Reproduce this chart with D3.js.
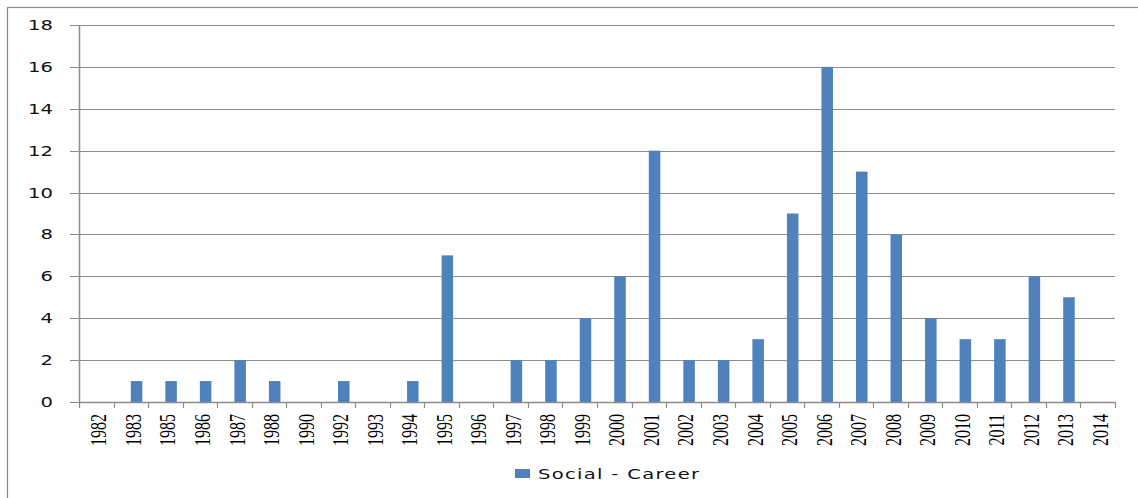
<!DOCTYPE html>
<html>
<head>
<meta charset="utf-8">
<script src="https://cdn.jsdelivr.net/npm/d3@7"></script>
<style>
html,body{margin:0;padding:0;background:#fff;}
svg{display:block;}
</style>
</head>
<body>
<svg id="chart" width="1138" height="498"></svg>
<script>
const categories = ["1982","1983","1985","1986","1987","1988","1990","1992","1993","1994","1995","1996","1997","1998","1999","2000","2001","2002","2003","2004","2005","2006","2007","2008","2009","2010","2011","2012","2013","2014"];
const values = [0,1,1,1,2,1,0,1,0,1,7,0,2,2,4,6,12,2,2,3,9,16,11,8,4,3,3,6,5,0];
const yTicks = [0,2,4,6,8,10,12,14,16,18];
const seriesName = "Social - Career";

(function(){
const svg = d3.select("#chart");
const pLeft = 79, pRight = 1115, pTop = 25, pBottom = 402;
const gridColor = "#8c8c8c";
const barColor = "#4f81bd";

// outer border
svg.append("rect").attr("x",7.5).attr("y",7.5).attr("width",1300).attr("height",700)
  .attr("fill","none").attr("stroke","#8a8a8a").attr("stroke-width",1.2);

const x = d3.scaleBand().domain(categories).range([pLeft,pRight]).padding(0);
const y = d3.scaleLinear().domain([0,18]).range([pBottom,pTop]);

// gridlines + y ticks
svg.append("g").selectAll("line").data(yTicks).join("line")
  .attr("x1",70).attr("x2",pRight)
  .attr("y1",d=>Math.round(y(d))+0.5).attr("y2",d=>Math.round(y(d))+0.5)
  .attr("stroke",gridColor).attr("stroke-width",1);

// y labels
svg.append("g").selectAll("text").data(yTicks).join("text")
  .attr("transform",d=>`translate(53,${y(d)+5}) scale(1.45,1)`)
  .attr("text-anchor","end")
  .attr("font-family","DejaVu Sans")
  .attr("font-size","13.5px")
  .attr("fill","#111")
  .text(d=>d);

// y axis line
svg.append("line").attr("x1",pLeft+0.5).attr("x2",pLeft+0.5).attr("y1",pTop).attr("y2",pBottom+1)
  .attr("stroke",gridColor).attr("stroke-width",1.5);

// x axis ticks at category boundaries
const bounds = categories.map(c=>x(c)).concat([pRight]);
svg.append("g").selectAll("line").data(bounds).join("line")
  .attr("x1",d=>Math.round(d)+0.5).attr("x2",d=>Math.round(d)+0.5)
  .attr("y1",pBottom).attr("y2",pBottom+6)
  .attr("stroke",gridColor).attr("stroke-width",1.2);

// bars (offset: start at category centre, width = band/3)
const bw = x.bandwidth()/3;
svg.append("g").selectAll("rect").data(values).join("rect")
  .attr("x",(d,i)=>x(categories[i])+x.bandwidth()/2)
  .attr("width",bw)
  .attr("y",d=>y(d))
  .attr("height",d=>pBottom-y(d))
  .attr("fill",barColor);

// x axis line on top
svg.append("line").attr("x1",pLeft).attr("x2",pRight).attr("y1",pBottom+0.5).attr("y2",pBottom+0.5)
  .attr("stroke",gridColor).attr("stroke-width",1.5);

// x labels rotated
svg.append("g").selectAll("text").data(categories).join("text")
  .attr("transform",d=>`translate(${x(d)+x.bandwidth()/2+2},414) scale(1.45,1) rotate(-90)`)
  .attr("text-anchor","end")
  .attr("dy","0.35em")
  .attr("font-family","Liberation Serif")
  .attr("font-size","16px")
  .attr("fill","#000")
  .text(d=>d);

// legend
svg.append("rect").attr("x",515).attr("y",469).attr("width",15).attr("height",9).attr("fill",barColor);
svg.append("text")
  .attr("transform","translate(538,479) scale(1.45,1)")
  .attr("font-family","DejaVu Sans")
  .attr("font-size","13.5px")
  .attr("letter-spacing","0.9px")
  .attr("fill","#111")
  .text(seriesName);
})();
</script>
</body>
</html>
